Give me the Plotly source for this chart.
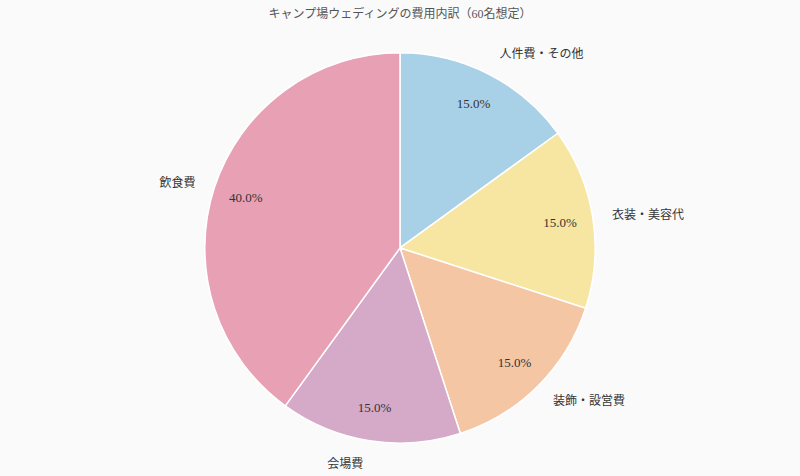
import plotly.graph_objects as go

# 費用内訳 (60名想定)
labels = ['人件費・その他', '衣装・美容代', '装飾・設営費', '会場費', '飲食費']
values = [15, 15, 15, 15, 40]
colors = ['#a8d1e7', '#f7e6a2', '#f5c6a4', '#d5a9c8', '#e8a1b4']

serif = 'Liberation Serif, DejaVu Serif, Noto Sans CJK JP, serif'
W, H = 800, 476
clear = ['rgba(0,0,0,0)'] * len(values)

fig = go.Figure()

# colored pie
fig.add_trace(go.Pie(
    labels=labels, values=values, sort=False, direction='clockwise', rotation=0,
    marker=dict(colors=colors, line=dict(color='white', width=1.5)),
    textinfo='none',
    domain=dict(x=[204 / W, 596 / W], y=[31 / H, 423 / H]),
    showlegend=False, hoverinfo='label+percent',
))

# transparent ring on top, so the percentages sit toward the rim
fig.add_trace(go.Pie(
    labels=labels, values=values, sort=False, direction='clockwise', rotation=0,
    hole=0.66,
    marker=dict(colors=clear, line=dict(width=0)),
    texttemplate='%{percent:.1%}', textposition='inside',
    insidetextorientation='horizontal',
    textfont=dict(family=serif, size=13, color='#333333'),
    domain=dict(x=[204 / W, 596 / W], y=[31 / H, 423 / H]),
    showlegend=False, hoverinfo='skip',
))

# transparent pie a bit larger, only for the category labels outside
fig.add_trace(go.Pie(
    labels=labels, values=values, sort=False, direction='clockwise', rotation=0,
    marker=dict(colors=clear, line=dict(width=0)),
    textinfo='label', textposition='outside',
    textfont=dict(family=serif, size=12, color='#333333'),
    domain=dict(x=[188 / W, 612 / W], y=[15 / H, 439 / H]),
    showlegend=False, hoverinfo='skip',
))

fig.update_layout(
    width=W, height=H,
    title=dict(text='キャンプ場ウェディングの費用内訳（60名想定）', x=0.5, y=1 - 14 / H,
               xanchor='center', yanchor='middle',
               font=dict(family=serif, size=12, color='#555555')),
    margin=dict(l=0, r=0, t=0, b=0),
    paper_bgcolor='#fafafa', plot_bgcolor='#fafafa',
)

fig.write_html('out.html', config={'displayModeBar': False},
               post_script="document.body.style.margin='0';")
